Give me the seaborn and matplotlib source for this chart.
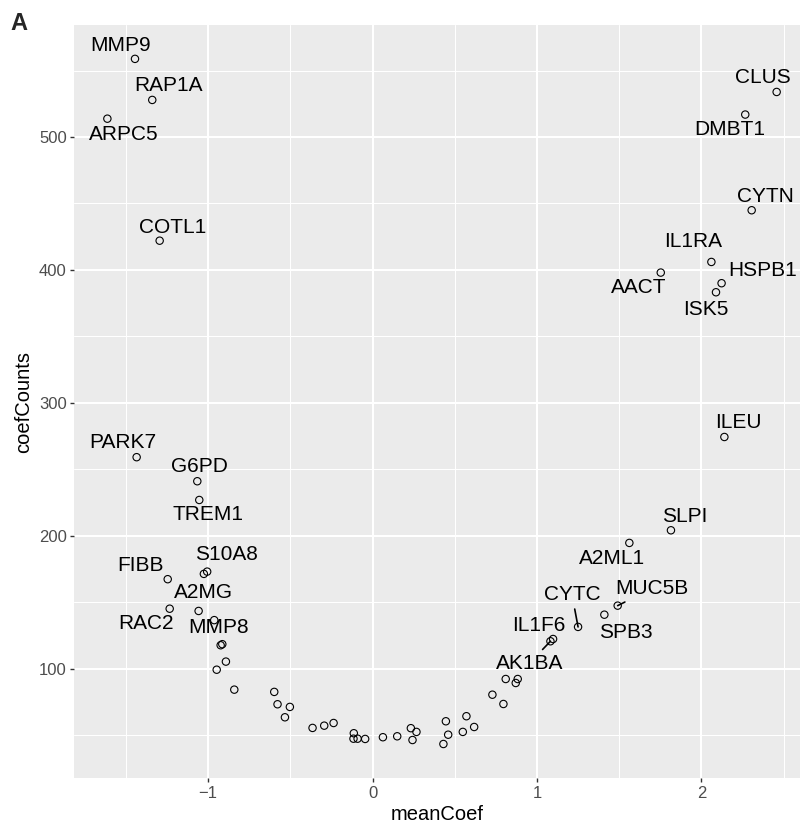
import matplotlib
matplotlib.use("Agg")
import matplotlib.pyplot as plt
import seaborn as sns
import pandas as pd
from matplotlib.ticker import MultipleLocator

# =============================
# DATA
# =============================
genes = ['MMP9', 'RAP1A', 'ARPC5', 'COTL1', 'CLUS', 'DMBT1', 'CYTN', 'IL1RA',
         'AACT', 'HSPB1', 'ISK5', 'ILEU', 'SLPI', 'A2ML1', 'MUC5B', 'SPB3',
         'CYTC', 'IL1F6', 'AK1BA', 'PARK7', 'G6PD', 'TREM1', 'FIBB', 'S10A8',
         'A2MG', 'RAC2', 'MMP8'] + [''] * 33

mean_coef = [-1.445, -1.340, -1.613, -1.295, 2.458, 2.267, 2.306, 2.061,
             1.753, 2.123, 2.089, 2.140, 1.815, 1.562, 1.491, 1.410,
             1.250, 1.098, 1.082, -1.435, -1.066, -1.054, -1.246, -1.006,
             -1.058, -1.234, -0.963,
             -1.026, -0.924, -0.914, -0.892, -0.948, -0.841, -0.598, -0.578,
             -0.503, -0.533, -0.365, -0.294, -0.237, -0.114, -0.116, -0.091,
             -0.045, 0.063, 0.150, 0.233, 0.267, 0.243, 0.446, 0.460,
             0.431, 0.549, 0.571, 0.618, 0.729, 0.796, 0.810, 0.883, 0.871]

coef_counts = [558.8, 527.9, 513.8, 422.0, 533.9, 516.9, 444.9, 406.0,
               398.0, 390.0, 383.2, 274.3, 204.1, 194.6, 147.4, 140.6,
               131.4, 122.3, 120.6, 259.1, 241.0, 226.9, 167.3, 173.0,
               143.4, 145.1, 136.5,
               171.3, 117.6, 118.4, 105.3, 99.2, 84.2, 82.5, 73.2,
               71.2, 63.4, 55.4, 57.1, 59.1, 51.4, 47.3, 47.3,
               47.1, 48.4, 49.1, 55.2, 52.4, 46.3, 60.4, 50.3,
               43.3, 52.4, 64.2, 56.1, 80.4, 73.4, 92.2, 92.2, 89.2]

df = pd.DataFrame({'gene': genes, 'meanCoef': mean_coef, 'coefCounts': coef_counts})

# label placement (pixel offsets from the point, like ggrepel did) and which get a segment
label_offsets = {
    'MMP9': (-14, 13), 'RAP1A': (16, 14), 'ARPC5': (16, -16), 'COTL1': (13, 13),
    'CLUS': (-14, 14), 'DMBT1': (-16, -15), 'CYTN': (14, 14), 'IL1RA': (-18, 20),
    'AACT': (-22, -15), 'HSPB1': (41, 13), 'ISK5': (-10, -17), 'ILEU': (14, 14),
    'SLPI': (14, 14), 'A2ML1': (-17, -16), 'MUC5B': (34, 17), 'SPB3': (21, -18),
    'CYTC': (-6, 32), 'IL1F6': (-14, 14), 'AK1BA': (-21, -22), 'PARK7': (-14, 15),
    'G6PD': (2, 15), 'TREM1': (9, -15), 'FIBB': (-27, 14), 'S10A8': (19, 17),
    'A2MG': (5, 18), 'RAC2': (-24, -15), 'MMP8': (4, -7),
}
with_segment = ['MUC5B', 'CYTC', 'AK1BA']

# =============================
# STYLE (ggplot2 grey theme look)
# =============================
sns.set_theme(style='darkgrid', rc={
    'axes.facecolor': '#EBEBEB',
    'grid.color': 'white',
    'axes.edgecolor': 'none',
})
plt.rcParams['font.family'] = ['Liberation Sans', 'DejaVu Sans']

fig = plt.figure(figsize=(8, 8.27), dpi=100)
ax = fig.add_axes([0.0925, 0.0589, 0.9075, 0.9109])

sns.scatterplot(data=df, x='meanCoef', y='coefCounts', ax=ax,
                facecolors='none', edgecolor='black', linewidth=0.8, s=28, zorder=3)

for _, row in df[df['gene'] != ''].iterrows():
    dx, dy = label_offsets[row['gene']]
    arrow = None
    if row['gene'] in with_segment:
        arrow = dict(arrowstyle='-', color='black', lw=1.2, shrinkA=1, shrinkB=0)
    ax.annotate(row['gene'], xy=(row['meanCoef'], row['coefCounts']),
                xytext=(dx, dy), textcoords='offset pixels',
                ha='center', va='center', fontsize=15, color='black',
                arrowprops=arrow, zorder=4)

ax.set_xlim(-1.816, 2.60)
ax.set_ylim(17.5, 584.3)
ax.xaxis.set_major_locator(MultipleLocator(1))
ax.xaxis.set_minor_locator(MultipleLocator(0.5))
ax.yaxis.set_major_locator(MultipleLocator(100))
ax.yaxis.set_minor_locator(MultipleLocator(50))
ax.grid(which='major', color='white', linewidth=1.5)
ax.grid(which='minor', color='white', linewidth=0.75)
ax.set_axisbelow(True)

ax.tick_params(axis='both', which='major', length=3.2, width=1.0, color='#333333',
               labelsize=12, labelcolor='#4D4D4D', pad=2, bottom=True, left=True)
ax.tick_params(axis='both', which='minor', length=0)

ax.set_xlabel('meanCoef', fontsize=14.5, color='black', labelpad=3)
ax.set_ylabel('coefCounts', fontsize=14.5, color='black', labelpad=4)

fig.text(0.0125, 0.972, 'A', fontsize=17, fontweight='bold', ha='left', va='center')

plt.savefig('out.png', dpi=100)
plt.close()
